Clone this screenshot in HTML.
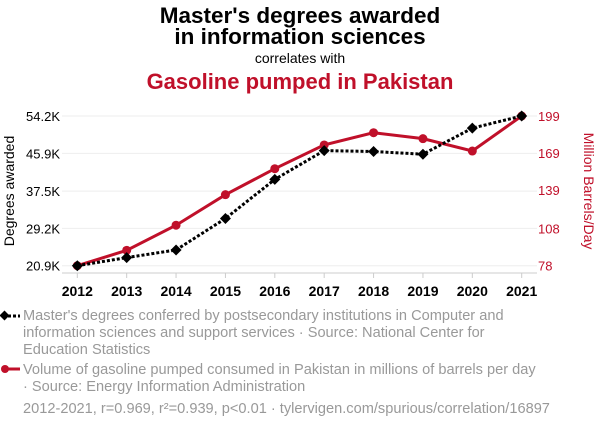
<!DOCTYPE html>
<html><head><meta charset="utf-8"><style>
body{margin:0;background:#fff;width:600px;height:430px;overflow:hidden;font-family:"Liberation Sans",sans-serif}
</style></head><body>
<svg id="chart" width="600" height="430" style="position:absolute;left:0;top:0">
<text x="300" y="23" text-anchor="middle" font-size="22.5" font-weight="bold" fill="#000">Master's degrees awarded</text>
<text x="300" y="44" text-anchor="middle" font-size="22.5" font-weight="bold" fill="#000">in information sciences</text>
<text x="300" y="63" text-anchor="middle" font-size="14" fill="#000">correlates with</text>
<text x="300" y="89" text-anchor="middle" font-size="22" font-weight="bold" fill="#c0102a">Gasoline pumped in Pakistan</text>
<g id="grid"></g>
<line x1="62" y1="273" x2="537" y2="273" stroke="#ccc" stroke-width="1"/>
<g id="marks"></g>
<text transform="translate(14,191) rotate(-90)" text-anchor="middle" font-size="14" fill="#000">Degrees awarded</text>
<text transform="translate(584,191) rotate(90)" text-anchor="middle" font-size="14" fill="#c0102a">Million Barrels/Day</text>
<g>
<line x1="3" y1="316" x2="20" y2="316" stroke="#000" stroke-width="3" stroke-dasharray="3,2"/>
<rect x="1" y="312" width="7" height="7" transform="rotate(45 4.5 315.5)" fill="#000"/>
<text font-size="14.6" fill="#999"><tspan x="23" y="320">Master's degrees conferred by postsecondary institutions in Computer and</tspan><tspan x="23" y="337">information sciences and support services · Source: National Center for</tspan><tspan x="23" y="354">Education Statistics</tspan></text>
</g>
<g>
<line x1="3" y1="369" x2="20" y2="369" stroke="#c0102a" stroke-width="3"/>
<circle cx="5" cy="369" r="4" fill="#c0102a"/>
<text font-size="14.6" fill="#999"><tspan x="23" y="374">Volume of gasoline pumped consumed in Pakistan in millions of barrels per day</tspan><tspan x="23" y="391">· Source: Energy Information Administration</tspan></text>
</g>
<text x="23" y="413" font-size="14.6" fill="#999">2012-2021, r=0.969, r²=0.939, p&lt;0.01 · tylervigen.com/spurious/correlation/16897</text>
</svg>
<script>
const years=[2012,2013,2014,2015,2016,2017,2018,2019,2020,2021];
const degrees=[20.9,22.7,24.4,31.4,40.1,46.5,46.3,45.7,51.5,54.2];
const gasoline=[78,90.4,110.7,135.4,156.4,175.6,185.5,180.7,170.7,199];
const leftTicks=[20.9,29.2,37.5,45.9,54.2];
const leftTickLabels=["20.9K","29.2K","37.5K","45.9K","54.2K"];
const rightTicks=[78,108,139,169,199];
const rightTickLabels=["78","108","139","169","199"];
const NS="http://www.w3.org/2000/svg";
const xS=y=>77.3+(y-2012)*(521.7-77.3)/9;
const yL=v=>265.7-(v-20.9)*(149.7/33.3);
const yR=v=>265.7-(v-78)*(149.7/121);
function mk(t,a,p){const e=document.createElementNS(NS,t);for(const k in a)e.setAttribute(k,a[k]);p.appendChild(e);return e;}
const grid=document.getElementById('grid'),marks=document.getElementById('marks');
leftTicks.forEach((v,i)=>{
 const g=mk('line',{x1:62,x2:537,y1:yL(v),y2:yL(v),stroke:'#eee','stroke-width':1},grid);
 
 
 const t=mk('text',{x:60,y:yL(v)+5,'text-anchor':'end','font-size':13,fill:'#000'},grid);
 t.textContent=leftTickLabels[i];
 
 
});
rightTicks.forEach((v,i)=>{
 const t=mk('text',{x:538,y:yR(v)+5,'font-size':13,fill:'#c0102a'},grid);
 t.textContent=rightTickLabels[i];
 
 
});
years.forEach(y=>{
 const tk=mk('line',{x1:xS(y),x2:xS(y),y1:273,y2:278,stroke:'#ccc'},grid);
 
 
 const t=mk('text',{x:xS(y),y:296,'text-anchor':'middle','font-size':14,'font-weight':'bold',fill:'#000'},grid);
 t.textContent=y;
 
 
});
const rl=mk('polyline',{points:years.map((y,i)=>xS(y)+','+yR(gasoline[i])).join(' '),fill:'none',stroke:'#c0102a','stroke-width':3},marks);


years.forEach((y,i)=>{
 const c=mk('circle',{cx:xS(y),cy:yR(gasoline[i]),r:4.5,fill:'#c0102a'},marks);
 
 
});
const bl=mk('polyline',{points:years.map((y,i)=>xS(y)+','+yL(degrees[i])).join(' '),fill:'none',stroke:'#000','stroke-width':3,'stroke-dasharray':'3,2'},marks);


years.forEach((y,i)=>{
 const x=xS(y),yy=yL(degrees[i]);
 const d=mk('polygon',{points:`${x},${yy-5.5} ${x+5.5},${yy} ${x},${yy+5.5} ${x-5.5},${yy}`,fill:'#000'},marks);
 
 
});
</script>
</body></html>
